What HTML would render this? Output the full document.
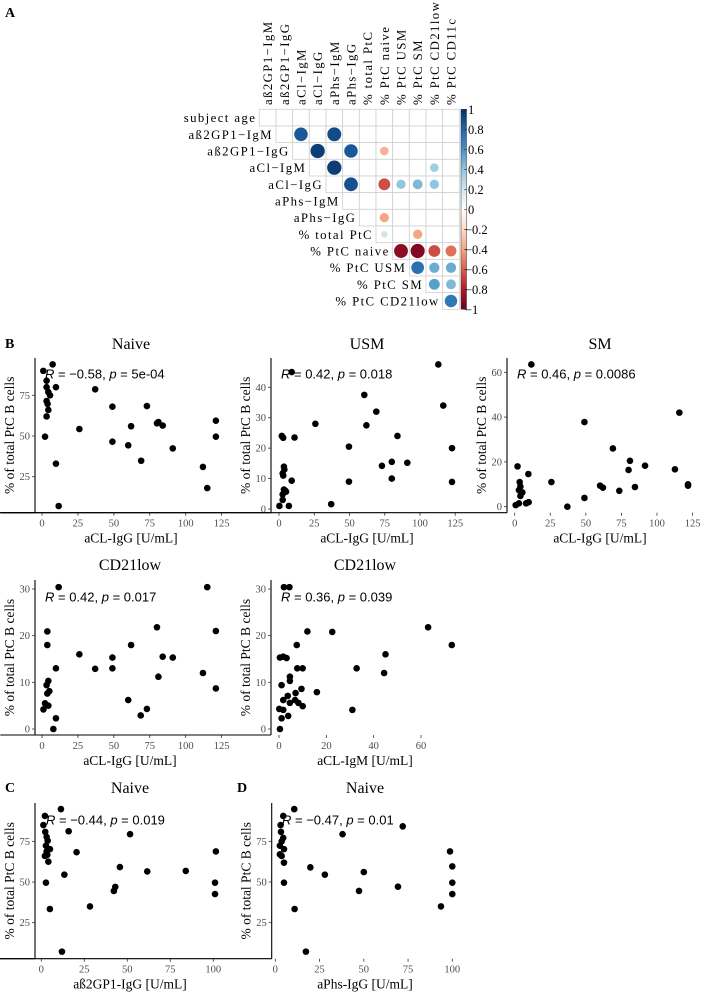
<!DOCTYPE html>
<html><head><meta charset="utf-8">
<style>
html,body{margin:0;padding:0;background:#fff}
svg{display:block}
text{font-family:"Liberation Serif",serif}
.ann{font-family:"Liberation Sans",sans-serif;font-size:13px}
.tick{font-size:10.5px;fill:#4d4d4d}
.ttl{font-size:16px}
.axt{font-size:13.5px}
.lbl{font-size:14px;font-weight:bold}
.cm{font-size:12.8px;letter-spacing:1.4px}
.cb{font-size:12.5px}
</style></head>
<body>
<svg id="fig" width="703" height="992" viewBox="0 0 703 992" xmlns="http://www.w3.org/2000/svg">
<text class="lbl" x="5" y="17">A</text>
<text class="lbl" x="5" y="348">B</text>
<text class="lbl" x="5" y="792">C</text>
<text class="lbl" x="237" y="792">D</text>
<g id="corr"></g>
<g id="scat"></g>
</svg>
<script>
// ---------- Correlation matrix data ----------
const rowLabels = ["subject age","aß2GP1−IgM","aß2GP1−IgG","aCl−IgM","aCl−IgG","aPhs−IgM","aPhs−IgG","% total PtC","% PtC naive","% PtC USM","% PtC SM","% PtC CD21low"];
const colLabels = ["aß2GP1−IgM","aß2GP1−IgG","aCl−IgM","aCl−IgG","aPhs−IgM","aPhs−IgG","% total PtC","% PtC naive","% PtC USM","% PtC SM","% PtC CD21low","% PtC CD11c"];
const corrRows = [1,1,2,2,2,3,3,4,4,4,4,4,6,7,7,8,8,8,8,9,9,9,10,10,11];
const corrCols = [2,4,3,5,7,4,10,5,7,8,9,10,7,7,9,8,9,10,11,9,10,11,10,11,11];
const corrVals = [0.85,0.9,0.95,0.85,-0.35,0.95,0.35,0.88,-0.65,0.4,0.45,0.4,-0.4,0.2,-0.4,-0.9,-0.93,-0.65,-0.55,0.75,0.5,0.5,0.55,0.45,0.72];
const cbTicks = ["1","0.8","0.6","0.4","0.2","0","−0.2","−0.4","−0.6","−0.8","−1"];

// ---------- Scatter data ----------
const p1x=[0.9,7.4,3.2,3.2,4.4,5.6,3.2,3.9,4.4,3.2,2.1,9.7,9.7,11.6,26,37,49,49,62,60,69,73,80,81,84,91,112,115,121,121];
const p1y=[90,94,84,80,77,75,71.5,69.7,66,62,49.6,80,33,7,54.3,78.7,68,46.5,56,44.3,34.8,68.4,57.8,58.6,56.4,42.4,31,18,59.4,49.6];
const p2x=[0.3,7,37,2,3,11,9,2.6,3,3.5,3.8,3.5,4.5,2.6,2.6,5,9,25.8,49.6,49.6,60.5,62,69,73,80,80,84,91,113,116.5,122.7,122.7];
const p2y=[1,1,1.6,24,23.4,23.5,45,11.7,11,13.9,13,6.4,6,4.8,3,5.7,9.3,28,20.5,9,37.5,27.5,32,14.2,15.5,10,24,15.2,47.5,34,20,8.9];
const p3x=[11.7,2,9.6,0.7,3,3.5,4,3,5.4,4,8,9.8,25.8,37,49,49,60,62,69,73.5,80,81,84.5,91.6,112.6,115.7,121.8,121.8];
const p3y=[63.5,18,14.6,0.7,1.5,11,9,7.4,6.4,4.8,1.5,2,11,0,37.8,3.9,9.4,8.5,26,7.1,16.4,20.5,8.8,18.3,16.7,42,10,9.4];
const p4x=[11.6,3.7,3.7,9.7,4.4,3.2,5.1,3.7,2.1,3.2,1,4.4,9.7,7.9,26,37,49,49,60,62,68.7,73,80,81,84,91,112,115,121,121];
const p4y=[30.4,20.9,18,13,10.3,9.4,8.1,7.6,5.5,5.1,4.2,5,2.3,0,16,12.9,15.3,13,6.2,18,2.9,4.3,21.8,11.2,15.5,15.3,12,30.4,21,8.7];
const p5x=[2.1,4.4,0.4,1.8,3.2,12,22.5,7.5,63,73,45,32.8,44.4,7.7,10,4.6,4.6,1.1,9.5,7,16,3.7,1.8,4.6,6.8,8.2,10,0.1,1.8,31,0.4,1.1,3.9];
const p5y=[30.4,30.4,15.3,15.5,15.2,20.9,20.8,18,21.8,18,16,13,12,13,13,11.2,10.3,9.4,8.6,7.7,7.9,7.1,6.2,5.6,6.2,5.6,4.9,4.3,4.1,4.1,0,2.3,2.8];
const p6x=[11.4,2.1,1.2,15.9,2.3,51.6,3.1,3.7,2.7,5,3.1,2.1,3.5,4.1,20.5,101.5,45.7,13.4,61.6,84,2.7,5,12,28.3,42.2,43,101,101];
const p6y=[94.8,90.6,85,81.2,80.8,79.4,77.7,75.4,72.3,70.2,68.8,66,66.7,62.5,68.3,68.8,59.2,54.5,56.5,56.8,49.6,33.4,7.2,35,44.5,47,49.6,42.6];
const p7x=[10.7,4.5,3,3.2,38,72,4.5,3.6,2.6,4.9,2.6,3.6,4.9,4.9,10.9,17.3,19.8,28,47.3,50,69.3,93.6,98.7,100,100,100];
const p7y=[94.8,90.6,85,80.8,79.4,84.2,77.1,75,72.3,70.2,67,66,61.9,49.6,33.4,7.2,59,54.5,44.5,56.1,47.1,35,68.8,59.6,49.6,42.6];
const xt125=[0,25,50,75,100,125], xt100=[0,25,50,75,100], xt60=[0,20,40,60];
const yt75=[25,50,75], yt40=[0,10,20,30,40], yt60=[0,20,40,60], yt30=[0,10,20,30];

const NS="http://www.w3.org/2000/svg";
function mk(tag,attrs,parent){const e=document.createElementNS(NS,tag);for(const k in attrs)e.setAttribute(k,attrs[k]);parent.appendChild(e);return e;}

const stops=["#67001F","#B2182B","#D6604D","#F4A582","#FDDBC7","#FFFFFF","#D1E5F0","#92C5DE","#4393C3","#2166AC","#053061"];
function hx(c){return [1,3,5].map(i=>parseInt(c.substr(i,2),16));}
function rdbu(v){const t=(v+1)/2*10;const i=Math.min(9,Math.floor(t));const f=t-i;const a=hx(stops[i]),b=hx(stops[i+1]);
return "rgb("+a.map((x,k)=>Math.round(x+(b[k]-x)*f)).join(",")+")";}

// ---------- correlation matrix ----------
const corr=document.getElementById('corr');
const X0=259.3,Y0=109.3,CS=16.67;
for(let i=0;i<12;i++){
  for(let j=i;j<12;j++){
    const r=mk('rect',{x:X0+j*CS,y:Y0+i*CS,width:CS,height:CS,fill:'#fff',stroke:'#cfcfcf','stroke-width':0.8},corr);
    
    
  }
  const t=mk('text',{x:X0+i*CS-3,y:Y0+(i+0.5)*CS+4.5,'text-anchor':'end',class:'cm'},corr);
  t.textContent=rowLabels[i];
  
  
}
for(let j=0;j<12;j++){
  const cx=X0+(j+0.5)*CS+4.5;
  const t=mk('text',{x:cx,y:105,transform:'rotate(-90 '+cx+' 105)',class:'cm'},corr);
  t.textContent=colLabels[j];
  
  
}
for(let k=0;k<corrVals.length;k++){
  const v=corrVals[k];
  const c=mk('circle',{cx:X0+(corrCols[k]+0.5)*CS,cy:Y0+(corrRows[k]+0.5)*CS,r:0.44*CS*Math.sqrt(Math.abs(v)),fill:rdbu(v)},corr);
  
  
}
const defs=mk('defs',{},corr);
const lg=mk('linearGradient',{id:'cbg',x1:0,y1:0,x2:0,y2:1},defs);
for(let s=0;s<11;s++){mk('stop',{offset:(s/10),'stop-color':stops[10-s]},lg);}
const cb=mk('rect',{x:461,y:109.3,width:5.5,height:200,fill:'url(#cbg)',stroke:'#333','stroke-width':0.5},corr);


for(let s=0;s<cbTicks.length;s++){
  const y=109.3+s*20;
  mk('line',{x1:464,x2:467,y1:y,y2:y,stroke:'#333','stroke-width':0.6},corr);
  const t=mk('text',{x:cbTicks[s].startsWith('−')?465:468,y:y+4.5,class:'cb'},corr);
  t.textContent=cbTicks[s];
  
  
}

// ---------- scatter panels ----------
const scat=document.getElementById('scat');
function panel(o){
  const g=mk('g',{},scat);
  
  
  const sx=v=>o.x0+(v-o.xv0)*o.xs, sy=v=>o.y0-(v-o.yv0)*o.ys;
  const ti=mk('text',{x:o.tx,y:o.ty+6,'text-anchor':'middle',class:'ttl'},g);ti.textContent=o.title;
  
  
  mk('line',{x1:o.L,x2:o.L,y1:o.T,y2:o.B,stroke:'#000','stroke-width':1.1},g);
  mk('line',{x1:o.L,x2:o.R,y1:o.B,y2:o.B,stroke:'#000','stroke-width':1.1},g);
  o.xt.forEach(v=>{const x=sx(v);mk('line',{x1:x,x2:x,y1:o.B,y2:o.B+3,stroke:'#333','stroke-width':0.8},g);
    const t=mk('text',{x:x,y:o.B+14,'text-anchor':'middle',class:'tick'},g);t.textContent=v;
    
    });
  o.yt.forEach(v=>{const y=sy(v);mk('line',{x1:o.L-3,x2:o.L,y1:y,y2:y,stroke:'#333','stroke-width':0.8},g);
    const t=mk('text',{x:o.L-5,y:y+3.5,'text-anchor':'end',class:'tick'},g);t.textContent=v;
    
    });
  const xa=mk('text',{x:o.tx,y:o.B+30,'text-anchor':'middle',class:'axt'},g);xa.textContent=o.xlab;
  
  
  const yx=o.L-21,yy=(o.T+o.B)/2;
  const ya=mk('text',{x:yx,y:yy,'text-anchor':'middle',class:'axt',transform:'rotate(-90 '+yx+' '+yy+')'},g);ya.textContent="% of total PtC B cells";
  
  
  for(let k=0;k<o.xs_.length;k++){
    const c=mk('circle',{cx:sx(o.xs_[k]),cy:sy(o.ys_[k]),r:3.3,fill:'#000'},g);
    
    
  }
  const an=mk('text',{x:o.ax,y:o.ay+4.5,class:'ann'},g);
  an.innerHTML='<tspan font-style="italic">R</tspan> = '+o.R+', <tspan font-style="italic">p</tspan> = '+o.p;
  
  
}
panel({name:'scatter-naive-acligg',title:'Naive',tx:131,ty:343,L:35,R:227,T:358,B:512.7,x0:42,xv0:0,xs:1.437,y0:476.7,yv0:25,ys:1.628,xt:xt125,yt:yt75,xs_:p1x,ys_:p1y,xlab:'aCL-IgG [U/mL]',ax:45,ay:374,R:'−0.58',p:'5e-04'});
panel({name:'scatter-usm-acligg',title:'USM',tx:367,ty:343,L:271,R:460,T:358,B:512.7,x0:279,xv0:0,xs:1.41,y0:509,yv0:0,ys:3.043,xt:xt125,yt:yt40,xs_:p2x,ys_:p2y,xlab:'aCL-IgG [U/mL]',ax:281,ay:374,R:'0.42',p:'0.018'});
panel({name:'scatter-sm-acligg',title:'SM',tx:600,ty:343,L:507,R:696,T:358,B:512.7,x0:514.7,xv0:0,xs:1.423,y0:506.7,yv0:0,ys:2.24,xt:xt125,yt:yt60,xs_:p3x,ys_:p3y,xlab:'aCL-IgG [U/mL]',ax:517,ay:374,R:'0.46',p:'0.0086'});
panel({name:'scatter-cd21low-acligg',title:'CD21low',tx:130,ty:564,L:35,R:227,T:580,B:735,x0:42,xv0:0,xs:1.437,y0:729,yv0:0,ys:4.667,xt:xt125,yt:yt30,xs_:p4x,ys_:p4y,xlab:'aCL-IgG [U/mL]',ax:45,ay:597,R:'0.42',p:'0.017'});
panel({name:'scatter-cd21low-acligm',title:'CD21low',tx:365,ty:564,L:271,R:460,T:580,B:735,x0:279,xv0:0,xs:2.367,y0:729,yv0:0,ys:4.667,xt:xt60,yt:yt30,xs_:p5x,ys_:p5y,xlab:'aCL-IgM [U/mL]',ax:281,ay:597,R:'0.36',p:'0.039'});
panel({name:'scatter-naive-ab2gp1igg',title:'Naive',tx:130,ty:787,L:35,R:224,T:803,B:958.7,x0:41.3,xv0:0,xs:1.72,y0:882,yv0:50,ys:1.627,xt:xt100,yt:yt75,xs_:p6x,ys_:p6y,xlab:'aß2GP1-IgG [U/mL]',ax:46,ay:820,R:'−0.44',p:'0.019'});
panel({name:'scatter-naive-aphsigg',title:'Naive',tx:365,ty:787,L:271.7,R:460,T:803,B:958.7,x0:275.3,xv0:0,xs:1.77,y0:882,yv0:50,ys:1.627,xt:xt100,yt:yt75,xs_:p7x,ys_:p7y,xlab:'aPhs-IgG [U/mL]',ax:282,ay:820,R:'−0.47',p:'0.01'});
</script>
</body></html>
